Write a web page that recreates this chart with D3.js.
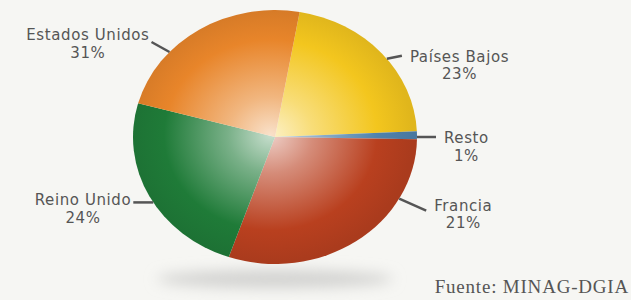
<!DOCTYPE html>
<html>
<head>
<meta charset="utf-8">
<script src="https://cdn.jsdelivr.net/npm/d3@7"></script>
<style>
  body { margin: 0; background: #f6f6f3; }
  svg { display: block; }
</style>
</head>
<body>
<svg id="chart" width="631" height="300"></svg>
<script>
// categories in drawing order (clockwise from the top)
const countries = ["Países Bajos", "Resto", "Francia", "Reino Unido", "Estados Unidos"];
// percentages printed on the labels
const printedShare = [23, 1, 21, 24, 31];
// slice sizes as they are drawn in the printed chart (they don't match the labels)
const drawnShare = [21.5, 1, 30, 24, 23.5];
const sliceColors = ["#f3c61e", "#4f82ad", "#b9401f", "#1f7b38", "#e8852a"];
const sourceNote = "Fuente: MINAG-DGIA";

// leader layout: angle (deg) where the leader meets the pie, leader vector, baseline offset
const labelLayout = [
  { angle: 52, dx: 15, dy: -3, base: 6 },
  { angle: 90, dx: 19, dy: 0, base: 6 },
  { angle: 119, dx: 27, dy: 12, base: 0 },
  { angle: 239, dx: -20, dy: 0, base: 3 },
  { angle: 312, dx: -18, dy: -10, base: -2 }
];

const svg = d3.select("#chart");
const cx = 275, cy = 137, r = 127, sx = 142 / 127;

const defs = svg.append("defs");

// soft shadow under the pie
defs.append("filter").attr("id", "blur")
    .attr("x", "-50%").attr("y", "-200%").attr("width", "200%").attr("height", "500%")
  .append("feGaussianBlur").attr("stdDeviation", 7);

svg.append("ellipse")
    .attr("cx", cx).attr("cy", 279)
    .attr("rx", 118).attr("ry", 9)
    .attr("fill", "#d2d2d0")
    .attr("filter", "url(#blur)");

sliceColors.forEach((c, i) => {
  const g = defs.append("radialGradient")
      .attr("id", "grad" + i)
      .attr("gradientUnits", "userSpaceOnUse")
      .attr("cx", -4).attr("cy", -2).attr("r", r);
  g.append("stop").attr("offset", 0).attr("stop-color", d3.interpolateRgb(c, "#fff")(0.75));
  g.append("stop").attr("offset", 0.3).attr("stop-color", d3.interpolateRgb(c, "#fff")(0.4));
  g.append("stop").attr("offset", 0.75).attr("stop-color", c);
  g.append("stop").attr("offset", 1).attr("stop-color", d3.interpolateRgb(c, "#000")(0.08));
});

const pie = d3.pie()
    .sort(null)
    .startAngle(10 * Math.PI / 180)
    .endAngle(370 * Math.PI / 180);

const arc = d3.arc().innerRadius(0).outerRadius(r);

const pieG = svg.append("g")
    .attr("transform", `translate(${cx},${cy}) scale(${sx},1)`);

pieG.selectAll("path")
  .data(pie(drawnShare))
  .join("path")
    .attr("d", arc)
    .attr("fill", (d, i) => `url(#grad${i})`);

// labels with leader lines
const labels = svg.append("g")
    .attr("font-family", "'DejaVu Sans', Verdana, sans-serif")
    .attr("font-size", 15)
    .attr("letter-spacing", 0.6)
    .attr("fill", "#555");

countries.forEach((name, i) => {
  const L = labelLayout[i];
  const a = L.angle * Math.PI / 180;
  const x0 = cx + r * sx * Math.sin(a), y0 = cy - r * Math.cos(a);
  const x1 = x0 + L.dx, y1 = y0 + L.dy;

  labels.append("line")
      .attr("x1", x0).attr("y1", y0)
      .attr("x2", x1).attr("y2", y1)
      .attr("stroke", "#555").attr("stroke-width", 2.5);

  const right = L.dx > 0;
  const gap = right ? 8 : -2;
  const t = labels.append("text")
      .attr("x", x1 + gap).attr("y", y1 + L.base)
      .attr("text-anchor", right ? "start" : "end")
      .text(name);
  const w = t.node().getComputedTextLength();
  const mid = right ? x1 + gap + w / 2 : x1 + gap - w / 2;
  labels.append("text")
      .attr("x", mid).attr("y", y1 + L.base + 17.5)
      .attr("text-anchor", "middle")
      .text(printedShare[i] + "%");
});

svg.append("text")
    .attr("x", 629).attr("y", 293)
    .attr("text-anchor", "end")
    .attr("font-family", "'Liberation Serif', 'Times New Roman', serif")
    .attr("font-size", 19)
    .attr("letter-spacing", 0.8)
    .attr("fill", "#555")
    .text(sourceNote);
</script>
</body>
</html>
